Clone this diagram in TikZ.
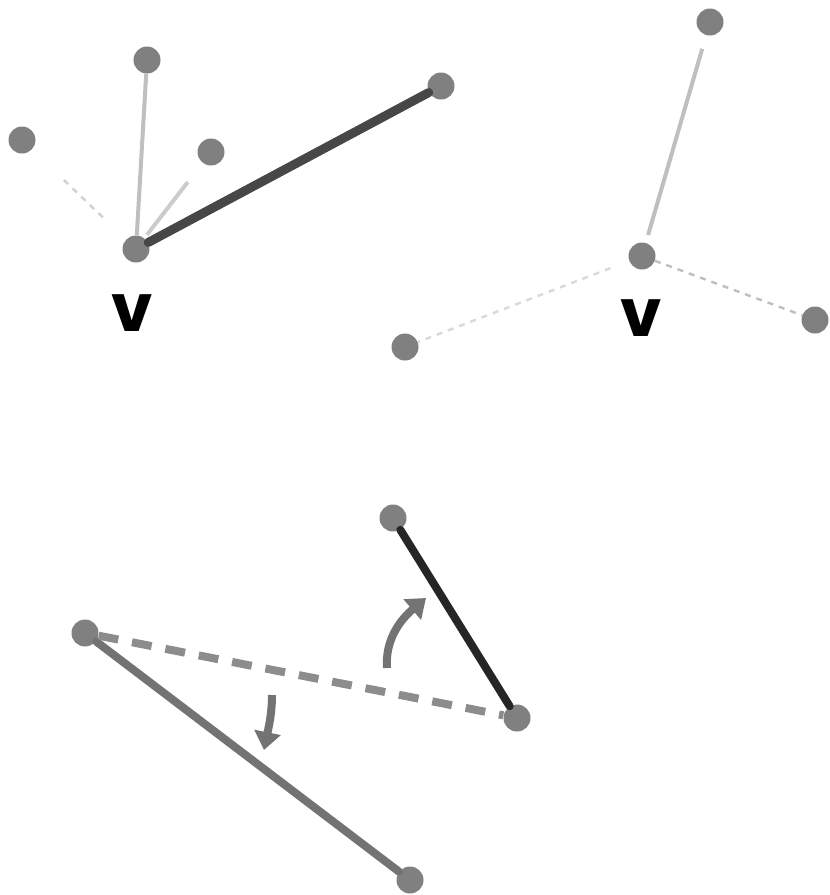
\documentclass[tikz,border=0pt]{standalone}
\usepackage{fontspec}
\newfontfamily\vfont{Poppins}
\usetikzlibrary{arrows.meta}
\begin{document}
\begin{tikzpicture}[x=0.5pt,y=-0.5pt,
  vert/.style={circle,fill=black!50,minimum size=13.5pt,inner sep=0pt},
  vlabel/.style={font=\vfont\bfseries\fontsize{33}{33}\selectfont,inner sep=0pt,text=black},
  faint/.style={draw=black!25,line width=2pt},
  fainter/.style={draw=black!18,line width=1.2pt,dash pattern=on 3pt off 3pt},
  heavy/.style={draw=black!72,line width=4.5pt,line cap=round},
  bold/.style={draw=black!85,line width=4pt,line cap=round},
  mid/.style={draw=black!55,line width=4pt,line cap=round},
  dashline/.style={draw=black!45,line width=4pt,dash pattern=on 10pt off 7pt},
  turn/.style={draw=black!55,line width=4pt,-{Triangle[length=9pt,width=13pt]}}
]
\useasboundingbox (0,0) rectangle (830,895);

% top-left panel
\node[vert] (v1) at (136,249) {};
\node[vert] (t1) at (147,60) {};
\node[vert] (l1) at (22,140) {};
\node[vert] (m1) at (211,152) {};
\node[vert] (r1) at (441,86) {};
\node[vlabel] (lab1) at (132,313) {v};
\draw[faint] (t1) -- (v1);
\draw[fainter,shorten <=22pt,shorten >=14pt] (l1) -- (v1);
\draw[faint,draw=black!20,shorten <=12pt,shorten >=2pt] (m1) -- (v1);
\draw[heavy] (v1) -- (r1);

% top-right panel
\node[vert] (v2) at (642,256) {};
\node[vert] (t2) at (710,22) {};
\node[vert] (r2) at (815,320) {};
\node[vert] (b2) at (405,347) {};
\node[vlabel] (lab2) at (641,318) {v};
\draw[faint,shorten <=7pt,shorten >=4pt] (t2) -- (v2);
\draw[fainter,draw=black!25] (v2) -- (r2);
\draw[fainter,draw=black!15,shorten <=10pt] (v2) -- (b2);

% bottom panel
\node[vert] (a) at (85,633) {};
\node[vert] (b) at (393,518) {};
\node[vert] (c) at (517,718) {};
\node[vert] (d) at (410,880) {};
\draw[mid] (a) -- (d);
\draw[dashline] (a) -- (c);
\draw[bold] (b) -- (c);
\coordinate (u0) at (387,668);
\coordinate (u1) at (426,598);
\draw[turn] (u0) .. controls (385,640) and (400,620) .. (u1);
\coordinate (w0) at (272,695);
\coordinate (w1) at (264,750);
\draw[turn] (w0) .. controls (272,715) and (268,730) .. (w1);
\end{tikzpicture}
\end{document}
